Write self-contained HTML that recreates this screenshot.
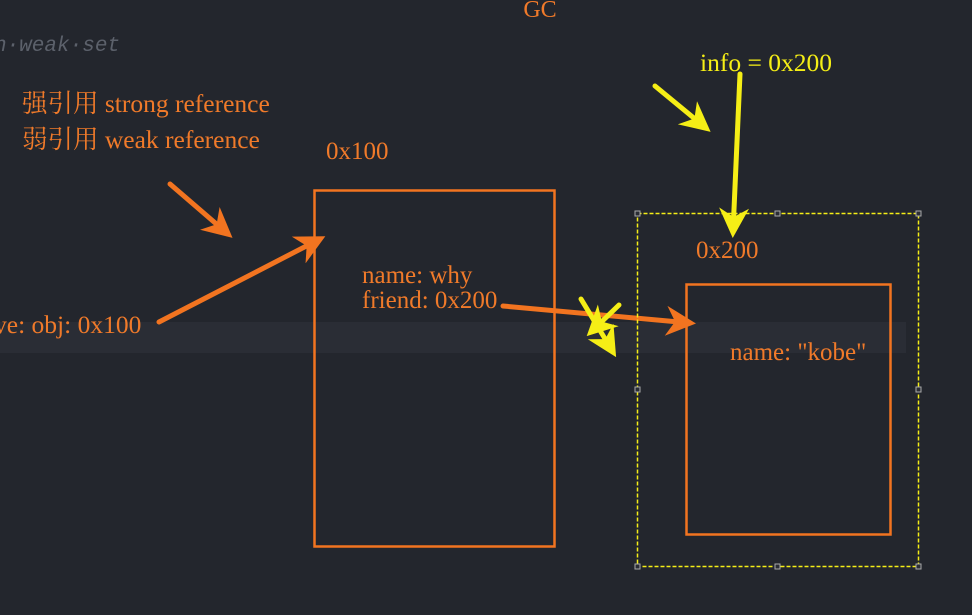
<!DOCTYPE html>
<html><head><meta charset="utf-8"><style>
html,body{margin:0;padding:0;background:#23262d;width:972px;height:615px;overflow:hidden}
svg{display:block}
.t{font-family:"Liberation Serif","Noto Serif CJK SC",serif;fill:#f07a2a}
</style></head><body>
<svg width="972" height="615" viewBox="0 0 972 615">
<defs>
<marker id="ho" viewBox="0 0 10 10" refX="8" refY="5" markerWidth="6" markerHeight="6" orient="auto"><path d="M0,0 L10,5 L0,10 L3,5 z" fill="#f27420"/></marker>
<marker id="hy" viewBox="0 0 10 10" refX="8" refY="5" markerWidth="6" markerHeight="6" orient="auto"><path d="M0,0 L10,5 L0,10 L3,5 z" fill="#f5ee16"/></marker>
</defs>
<rect x="0" y="0" width="972" height="615" fill="#23262d"/>
<rect x="0" y="322" width="906" height="31" fill="#2a2d35"/>
<text x="540" y="17" text-anchor="middle" class="t" font-size="24">GC</text>
<text x="-6" y="51" font-family="Liberation Mono,monospace" font-style="italic" font-size="21" fill="#5c616b">n·weak·set</text>
<text x="22" y="112" class="t" font-size="25.5">强引用 strong reference</text>
<text x="22" y="148" class="t" font-size="25.5">弱引用 weak reference</text>
<text x="326" y="159" class="t" font-size="25">0x100</text>
<line x1="170" y1="184" x2="228" y2="234" stroke="#f27420" stroke-width="5" stroke-linecap="round" marker-end="url(#ho)"/>
<rect x="314.5" y="190.5" width="240" height="356" fill="none" stroke="#f27420" stroke-width="2.5"/>
<line x1="159" y1="322" x2="320" y2="239" stroke="#f27420" stroke-width="5" stroke-linecap="round" marker-end="url(#ho)"/>
<text x="-6" y="333" class="t" font-size="25.5">ve: obj: 0x100</text>
<text x="362" y="283" class="t" font-size="25">name: why</text>
<text x="362" y="308" class="t" font-size="25">friend: 0x200</text>
<line x1="503" y1="306" x2="690" y2="323" stroke="#f27420" stroke-width="5" stroke-linecap="round" marker-end="url(#ho)"/>
<text x="700" y="71" font-family="Liberation Serif,serif" font-size="25.5" fill="#f5ee16">info = 0x200</text>
<line x1="740" y1="74" x2="733" y2="232" stroke="#f5ee16" stroke-width="5" stroke-linecap="round" marker-end="url(#hy)"/>
<line x1="655" y1="86" x2="706" y2="128" stroke="#f5ee16" stroke-width="5" stroke-linecap="round" marker-end="url(#hy)"/>
<line x1="581" y1="299" x2="613" y2="352" stroke="#f5ee16" stroke-width="5" stroke-linecap="round" marker-end="url(#hy)"/>
<line x1="619" y1="305" x2="591" y2="332" stroke="#f5ee16" stroke-width="5" stroke-linecap="round" marker-end="url(#hy)"/>
<rect x="637.5" y="213.5" width="281" height="353" fill="none" stroke="#f5ee16" stroke-width="1.5" stroke-dasharray="4 2"/>
<g fill="#2a2d35" stroke="#aaa" stroke-width="1">
<rect x="635" y="211" width="5" height="5"/><rect x="775" y="211" width="5" height="5"/><rect x="916" y="211" width="5" height="5"/>
<rect x="635" y="387" width="5" height="5"/><rect x="916" y="387" width="5" height="5"/>
<rect x="635" y="564" width="5" height="5"/><rect x="775" y="564" width="5" height="5"/><rect x="916" y="564" width="5" height="5"/>
</g>
<text x="696" y="258" class="t" font-size="25">0x200</text>
<rect x="686.5" y="284.5" width="204" height="250" fill="none" stroke="#f27420" stroke-width="2.5"/>
<text x="730" y="360" class="t" font-size="25">name: "kobe"</text>
</svg>
</body></html>
